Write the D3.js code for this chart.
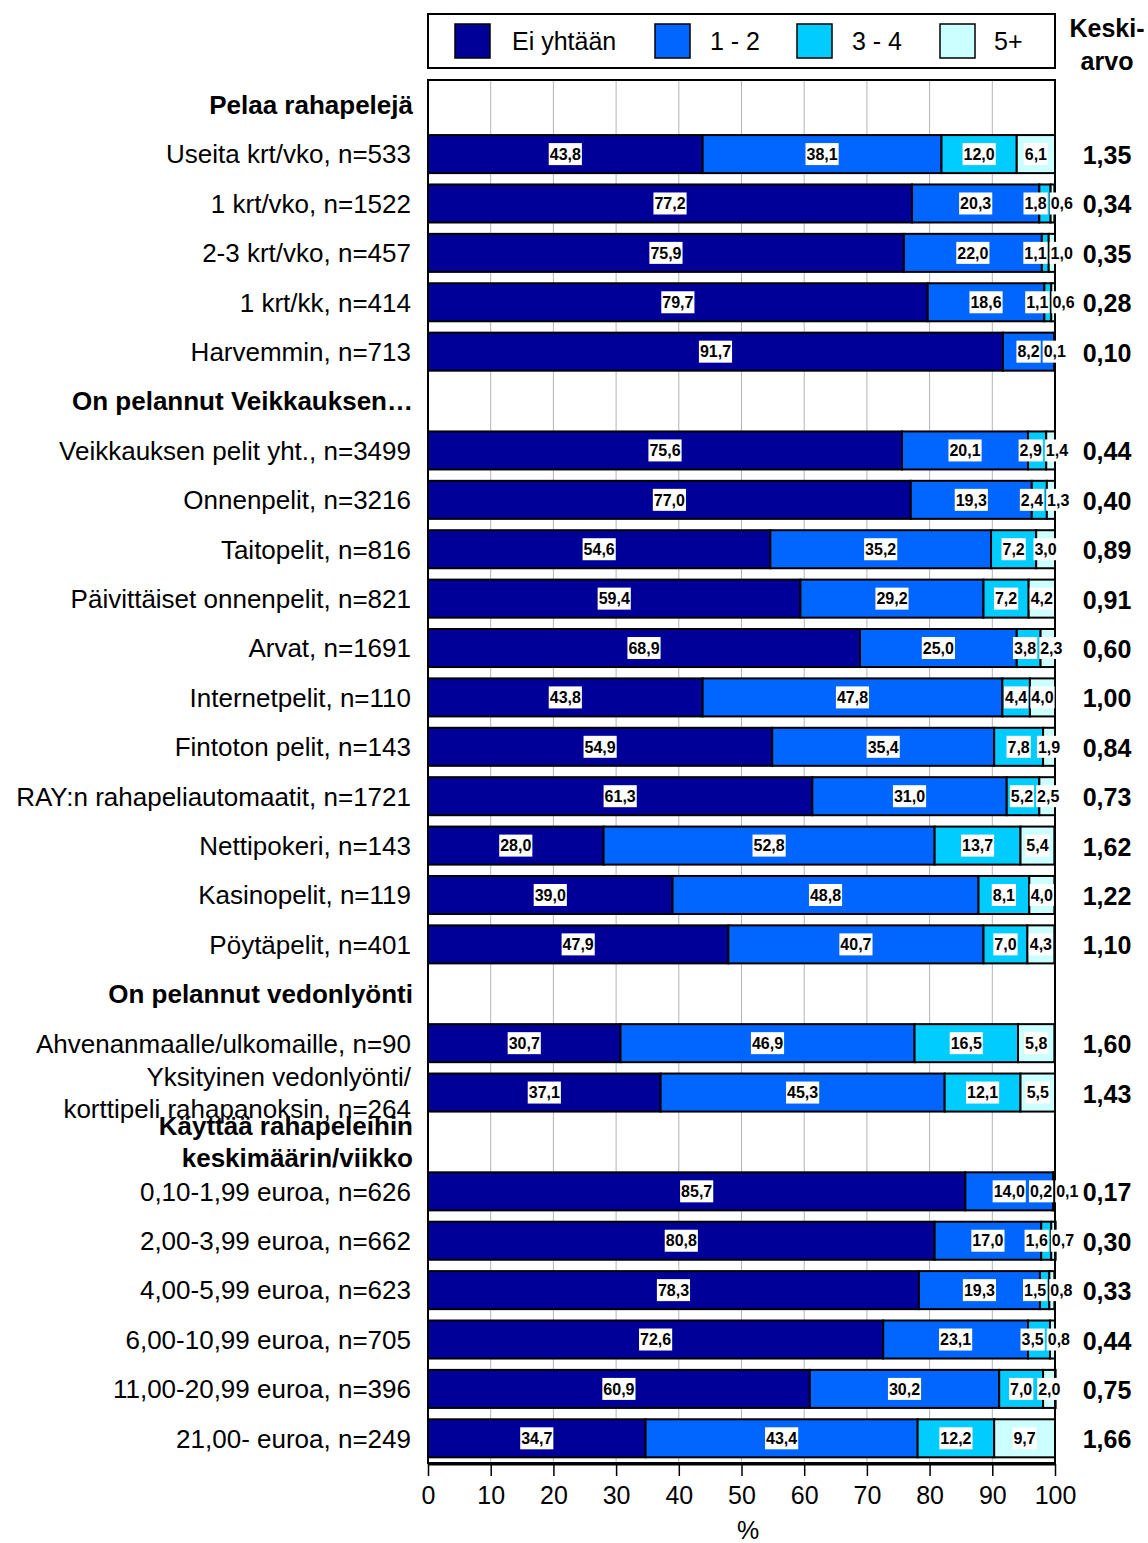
<!DOCTYPE html>
<html><head><meta charset="utf-8">
<script src="https://cdn.jsdelivr.net/npm/d3@7/dist/d3.min.js"></script>
<style>
body{margin:0;background:#fff;}
svg{display:block;font-family:"Liberation Sans",Arial,sans-serif;}
</style></head>
<body>
<svg id="c" width="1148" height="1543"></svg>
<script>
const categories = [
 "Pelaa rahapelejä",
 "Useita krt/vko, n=533",
 "1 krt/vko, n=1522",
 "2-3 krt/vko, n=457",
 "1 krt/kk, n=414",
 "Harvemmin, n=713",
 "On pelannut Veikkauksen…",
 "Veikkauksen pelit yht., n=3499",
 "Onnenpelit, n=3216",
 "Taitopelit, n=816",
 "Päivittäiset onnenpelit, n=821",
 "Arvat, n=1691",
 "Internetpelit, n=110",
 "Fintoton pelit, n=143",
 "RAY:n rahapeliautomaatit, n=1721",
 "Nettipokeri, n=143",
 "Kasinopelit, n=119",
 "Pöytäpelit, n=401",
 "On pelannut vedonlyönti",
 "Ahvenanmaalle/ulkomaille, n=90",
 "Yksityinen vedonlyönti/\nkorttipeli rahapanoksin, n=264",
 "Käyttää rahapeleihin\nkeskimäärin/viikko",
 "0,10-1,99 euroa, n=626",
 "2,00-3,99 euroa, n=662",
 "4,00-5,99 euroa, n=623",
 "6,00-10,99 euroa, n=705",
 "11,00-20,99 euroa, n=396",
 "21,00- euroa, n=249"
];
const headers = ["Pelaa rahapelejä","On pelannut Veikkauksen…","On pelannut vedonlyönti","Käyttää rahapeleihin\nkeskimäärin/viikko"];
const seriesNames = ["Ei yhtään","1 - 2","3 - 4","5+"];
const eiYhtaan = [null,43.8,77.2,75.9,79.7,91.7,null,75.6,77.0,54.6,59.4,68.9,43.8,54.9,61.3,28.0,39.0,47.9,null,30.7,37.1,null,85.7,80.8,78.3,72.6,60.9,34.7];
const yksiKaksi = [null,38.1,20.3,22.0,18.6,8.2,null,20.1,19.3,35.2,29.2,25.0,47.8,35.4,31.0,52.8,48.8,40.7,null,46.9,45.3,null,14.0,17.0,19.3,23.1,30.2,43.4];
const kolmeNelja = [null,12.0,1.8,1.1,1.1,0.1,null,2.9,2.4,7.2,7.2,3.8,4.4,7.8,5.2,13.7,8.1,7.0,null,16.5,12.1,null,0.2,1.6,1.5,3.5,7.0,12.2];
const viisiPlus = [null,6.1,0.6,1.0,0.6,0,null,1.4,1.3,3.0,4.2,2.3,4.0,1.9,2.5,5.4,4.0,4.3,null,5.8,5.5,null,0.1,0.7,0.8,0.8,2.0,9.7];
const keskiarvo = [null,1.35,0.34,0.35,0.28,0.10,null,0.44,0.40,0.89,0.91,0.60,1.00,0.84,0.73,1.62,1.22,1.10,null,1.60,1.43,null,0.17,0.30,0.33,0.44,0.75,1.66];
const xTicks = [0,10,20,30,40,50,60,70,80,90,100];
const colors = ["#000099","#0066FF","#00CCFF","#CCFFFF"];

const series = [eiYhtaan, yksiKaksi, kolmeNelja, viisiPlus];
const svg = d3.select("#c");
const L = 428, R = 1055, T = 80, B = 1463;
const x = d3.scaleLinear().domain([0,100]).range([L,R]);
const y = d3.scaleBand().domain(d3.range(categories.length)).range([T,B]).paddingInner(0.23).paddingOuter(0.115);
const step = y.step();
const rowC = i => T + step*(i+0.5);
const fmt = v => d3.format(".1f")(v).replace(".",",");
const fmt2 = v => d3.format(".2f")(v).replace(".",",");

// gridlines
svg.append("g").selectAll("line").data(xTicks.slice(1,-1)).join("line")
  .attr("x1",d=>x(d)).attr("x2",d=>x(d)).attr("y1",T).attr("y2",B)
  .attr("stroke","#b4b4b4").attr("stroke-width",1);

// bars
const stacked = categories.map((c,i)=>{
  if (eiYhtaan[i]===null) return null;
  let acc=0;
  return series.map((s,k)=>{const v=s[i]; const o={k,v,x0:acc,x1:acc+v}; acc+=v; return o;});
});
const gBars = svg.append("g");
stacked.forEach((segs,i)=>{
  if(!segs) return;
  segs.forEach(s=>{
    if(s.v<=0) return;
    gBars.append("rect").attr("x",x(s.x0)).attr("y",y(i)).attr("width",x(s.x1)-x(s.x0)).attr("height",y.bandwidth())
      .attr("fill",colors[s.k]).attr("stroke","#000").attr("stroke-width",2);
  });
});

// plot border
svg.append("rect").attr("x",L).attr("y",T).attr("width",R-L).attr("height",B-T)
  .attr("fill","none").attr("stroke","#000").attr("stroke-width",2);

// data labels
const gLab = svg.append("g");
stacked.forEach((segs,i)=>{
  if(!segs) return;
  const labs = segs.filter(s=>s.v>0).map(s=>{
    const t = gLab.append("text").text(fmt(s.v)).attr("font-size",16).attr("font-weight","bold")
      .attr("text-anchor","middle").attr("y",rowC(i)).attr("dy","0.36em").attr("fill","#000");
    const w = t.node().getComputedTextLength();
    return {t,w,c:x((s.x0+s.x1)/2)};
  });
  const gap = 4;
  for(let it=0;it<60;it++){
    let moved=false;
    for(let j=0;j<labs.length-1;j++){
      const a=labs[j], b=labs[j+1];
      const need = a.w/2 + b.w/2 + gap;
      const d = b.c - a.c;
      if(d < need-0.01){ const p=(need-d)/2; a.c-=p; b.c+=p; moved=true; }
    }
    if(!moved) break;
  }
  labs.forEach(l=>{
    gLab.insert("rect","text").attr("x",l.c-l.w/2-1).attr("y",rowC(i)-11).attr("width",l.w+2).attr("height",22).attr("fill","#fff");
    l.t.attr("x",l.c);
  });
});
gLab.selectAll("text").raise();

// category labels
const gCat = svg.append("g");
categories.forEach((c,i)=>{
  const isH = headers.includes(c);
  const lines = c.split("\n");
  const lh = 32;
  lines.forEach((ln,j)=>{
    gCat.append("text").text(ln).attr("x", isH?413:411)
      .attr("y", rowC(i) + (j-(lines.length-1)/2)*lh).attr("dy","0.36em")
      .attr("text-anchor","end").attr("font-size",26).attr("font-weight",isH?"bold":"normal").attr("fill","#000");
  });
});

// mean values
svg.append("g").selectAll("text").data(keskiarvo.map((v,i)=>({v,i})).filter(d=>d.v!==null)).join("text")
  .attr("x",1107).attr("y",d=>rowC(d.i)+1).attr("dy","0.36em").attr("text-anchor","middle")
  .attr("font-size",25).attr("font-weight","bold").text(d=>fmt2(d.v));
svg.append("text").attr("x",1107).attr("y",28).attr("dy","0.36em").attr("text-anchor","middle").attr("font-size",25).attr("font-weight","bold").text("Keski-");
svg.append("text").attr("x",1107).attr("y",61).attr("dy","0.36em").attr("text-anchor","middle").attr("font-size",25).attr("font-weight","bold").text("arvo");

// axis
const ax = svg.append("g").attr("transform",`translate(0,${B+1})`)
  .call(d3.axisBottom(x).tickValues(xTicks).tickFormat(d3.format("d")).tickSize(12).tickPadding(10).tickSizeOuter(0));
ax.selectAll("text").attr("font-size",25).attr("font-family","'Liberation Sans',Arial,sans-serif").attr("fill","#000");
ax.selectAll("line").attr("stroke","#000").attr("stroke-width",1.5);
ax.select(".domain").attr("stroke","#000").attr("stroke-width",2);
svg.append("text").attr("x",748).attr("y",1530).attr("dy","0.36em").attr("text-anchor","middle").attr("font-size",25).text("%");

// legend
const lg = svg.append("g");
lg.append("rect").attr("x",L).attr("y",14).attr("width",R-L).attr("height",54).attr("fill","#fff").attr("stroke","#000").attr("stroke-width",2);
const swX=[455,655,797,940], txX=[512,710,852,994];
seriesNames.forEach((n,k)=>{
  lg.append("rect").attr("x",swX[k]).attr("y",24).attr("width",35).attr("height",34).attr("fill",colors[k]).attr("stroke","#000").attr("stroke-width",1.5);
  lg.append("text").attr("x",txX[k]).attr("y",41).attr("dy","0.36em").attr("font-size",25).text(n);
});
</script>
</body></html>
